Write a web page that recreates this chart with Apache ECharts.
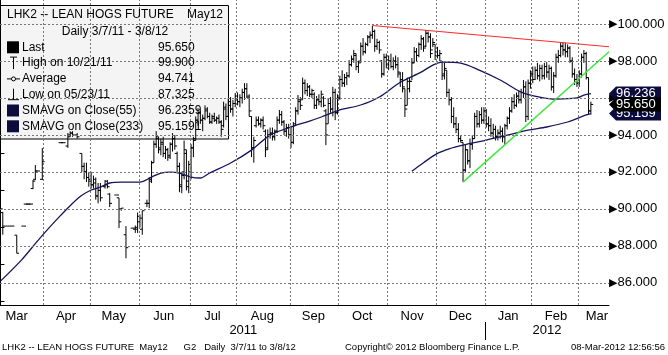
<!DOCTYPE html>
<html>
<head>
<meta charset="utf-8">
<script src="https://cdn.jsdelivr.net/npm/echarts@6/dist/echarts.min.js"></script>
<style>
  html, body { margin: 0; padding: 0; background: #fff; }
  #chart { width: 668px; height: 355px; }
</style>
</head>
<body>
<div id="chart"></div>
<script>
// daily bars: [trading day index, open, high, low, close]
const bars = [
  [0, 90.0, 90.1, 89.8, 90.0], [1, 89.8, 89.84, 88.6, 89.07], [3, 89.07, 89.07, 89.07, 89.07],
  [5, 89.07, 89.07, 89.07, 89.07], [7, 88.58, 88.58, 87.6, 87.6], [10, 89.07, 89.07, 89.07, 89.07],
  [11, 90.26, 90.26, 90.26, 90.26], [12, 90.26, 90.26, 90.26, 90.26], [13, 90.26, 90.26, 90.26, 90.26],
  [14, 91.1, 91.56, 91.07, 91.5], [15, 91.6, 92.37, 91.56, 92.05], [16, 92.05, 92.05, 92.05, 92.05],
  [18, 91.6, 93.29, 91.56, 92.55],
  [26, 93.58, 93.58, 93.58, 93.58], [27, 93.58, 93.58, 93.58, 93.58], [29, 93.4, 94.1, 93.3, 93.9],
  [30, 94.0, 94.2, 93.9, 94.1], [31, 94.1, 94.2, 93.9, 94.0], [33, 94.0, 94.1, 93.8, 93.9],
  [35, 93.0, 93.0, 92.0, 92.3], [36, 92.3, 92.5, 91.6, 92.0], [37, 92.0, 92.5, 91.45, 91.7],
  [38, 91.7, 92.0, 91.2, 91.5],
  [39, 91.6, 92.0, 91.1, 91.3], [40, 91.3, 91.8, 91.1, 91.6], [41, 91.4, 91.7, 90.5, 90.7],
  [42, 90.7, 91.4, 90.3, 91.0], [43, 91.0, 91.4, 90.4, 90.6], [45, 91.2, 91.56, 91.1, 91.5],
  [46, 91.3, 91.56, 91.1, 91.2], [47, 90.8, 90.85, 90.1, 90.3], [50, 90.75, 90.75, 90.75, 90.75],
  [51, 90.6, 90.6, 88.96, 89.3], [52, 90.0, 90.04, 89.9, 90.04], [54, 88.6, 89.07, 87.325, 87.9],
  [57, 88.96, 88.96, 88.96, 88.96], [58, 88.9, 89.1, 88.7, 89.0],
  [59, 88.9, 89.8, 88.7, 89.6], [60, 89.3, 89.7, 89.0, 89.5], [61, 88.9, 89.9, 88.6, 89.9],
  [63, 90.3, 90.5, 90.1, 90.3], [64, 90.3, 91.72, 90.04, 91.5], [65, 91.6, 92.6, 91.4, 92.5],
  [66, 92.5, 93.7, 92.5, 93.5], [67, 93.5, 94.2, 93.3, 93.9], [68, 93.8, 93.9, 93.0, 93.2],
  [69, 93.3, 93.8, 92.9, 93.6], [70, 93.5, 93.9, 92.8, 93.0], [71, 93.0, 93.4, 92.7, 93.2],
  [72, 93.2, 93.3, 92.6, 92.8], [73, 92.9, 93.6, 92.7, 93.5], [74, 93.5, 94.1, 93.1, 93.8],
  [75, 93.8, 94.0, 93.2, 93.4], [76, 93.0, 93.1, 92.0, 92.3], [77, 92.3, 92.5, 90.9, 91.2],
  [78, 91.3, 92.0, 90.85, 91.8], [79, 92.0, 93.7, 91.6, 93.2], [80, 93.0, 93.2, 91.0, 91.2],
  [81, 91.5, 92.6, 90.85, 92.4],
  [82, 92.0, 93.5, 91.6, 93.3], [83, 93.3, 93.9, 92.8, 93.7], [84, 93.8, 95.0, 93.7, 94.8],
  [85, 94.8, 95.45, 94.5, 95.2], [86, 95.2, 95.3, 94.6, 94.8], [87, 94.8, 95.1, 94.2, 94.9],
  [88, 94.9, 95.6, 94.8, 95.4], [89, 95.3, 95.5, 94.9, 95.0], [90, 95.0, 95.2, 94.6, 94.7],
  [91, 94.7, 95.1, 94.6, 95.0], [92, 94.9, 95.2, 94.7, 94.8], [93, 94.8, 95.0, 94.6, 94.9],
  [94, 94.9, 95.1, 94.6, 94.7], [95, 94.7, 94.8, 93.9, 94.3], [96, 94.5, 95.8, 94.4, 95.5],
  [97, 95.4, 95.7, 94.8, 95.0], [98, 95.0, 96.0, 94.97, 95.8], [99, 95.6, 96.05, 95.2, 95.4],
  [100, 95.4, 95.9, 95.0, 95.7], [101, 95.7, 96.27, 95.5, 96.1],
  [102, 96.1, 96.3, 95.6, 95.8], [103, 95.8, 96.2, 95.5, 96.0], [104, 96.0, 96.5, 95.7, 96.3],
  [105, 96.3, 96.8, 95.9, 96.5], [106, 96.5, 96.8, 96.0, 96.1], [107, 96.0, 96.2, 95.0, 95.3],
  [108, 95.0, 95.0, 92.8, 93.3], [109, 93.3, 93.9, 92.5, 93.7], [110, 94.5, 95.0, 94.4, 94.8],
  [111, 94.8, 95.0, 94.5, 94.6], [112, 94.6, 94.9, 94.4, 94.8], [113, 94.8, 95.0, 94.3, 94.5],
  [114, 94.2, 94.3, 92.8, 93.2], [115, 93.3, 94.3, 93.2, 94.0], [116, 94.0, 94.4, 93.8, 94.1],
  [117, 94.1, 94.4, 93.7, 93.9], [118, 93.9, 94.3, 93.7, 94.2], [119, 94.2, 95.0, 94.1, 94.8],
  [120, 94.8, 95.35, 94.6, 95.1], [121, 95.1, 95.3, 94.5, 94.7], [122, 94.7, 94.8, 94.0, 94.2],
  [123, 94.2, 94.6, 93.9, 94.4], [124, 94.4, 94.6, 93.8, 94.0],
  [125, 94.0, 94.5, 93.3, 93.6], [126, 93.6, 94.7, 93.5, 94.5], [127, 94.6, 95.5, 94.5, 95.3],
  [128, 95.3, 96.16, 95.1, 95.9], [129, 95.8, 96.05, 95.35, 95.6], [130, 95.9, 97.1, 95.9, 96.8],
  [131, 96.8, 97.0, 96.2, 96.4], [132, 96.4, 96.8, 96.1, 96.6], [133, 96.6, 96.7, 96.05, 96.2],
  [134, 96.2, 96.5, 96.0, 96.4], [135, 96.2, 96.3, 95.4, 95.6], [136, 95.6, 96.1, 95.4, 95.9],
  [137, 95.9, 96.2, 95.6, 95.8], [138, 95.8, 96.4, 95.5, 96.2], [139, 96.0, 96.1, 95.5, 95.6],
  [140, 95.3, 95.4, 93.45, 94.0], [141, 94.6, 96.0, 94.6, 95.7], [142, 95.7, 96.05, 95.2, 95.4],
  [143, 95.4, 96.6, 95.0, 96.3], [144, 96.3, 96.5, 94.8, 95.2], [145, 95.2, 96.2, 95.1, 96.0],
  [146, 96.0, 97.2, 95.9, 97.0], [147, 97.0, 97.5, 96.6, 96.8], [148, 96.8, 97.3, 96.6, 97.1],
  [149, 97.1, 97.4, 96.7, 97.2], [150, 97.2, 98.05, 97.1, 97.8], [151, 97.8, 98.3, 97.7, 98.1],
  [152, 98.1, 98.6, 97.9, 98.4], [153, 98.3, 98.4, 97.5, 97.7], [154, 97.7, 98.0, 97.35, 97.9],
  [155, 98.0, 99.0, 97.9, 98.8], [156, 98.8, 99.24, 98.3, 98.5], [157, 98.5, 99.0, 98.4, 98.9],
  [158, 98.9, 99.4, 98.8, 99.3], [159, 99.3, 99.6, 98.97, 99.4], [160, 99.4, 99.9, 99.2, 99.6],
  [161, 99.6, 99.7, 98.5, 98.8], [162, 98.8, 99.2, 98.6, 99.0], [163, 99.0, 99.1, 98.4, 98.6],
  [164, 98.0, 98.05, 97.1, 97.3], [165, 97.3, 98.4, 97.2, 98.2], [166, 98.2, 98.4, 97.6, 97.8],
  [167, 97.8, 98.3, 97.5, 98.0], [168, 98.0, 98.4, 97.6, 97.7], [169, 97.7, 98.2, 97.5, 98.0],
  [170, 98.0, 98.3, 97.6, 97.8], [171, 97.8, 98.2, 97.1, 97.4], [172, 97.3, 97.4, 96.6, 96.9],
  [173, 97.0, 97.4, 96.3, 96.6], [174, 96.5, 96.5, 94.97, 95.4], [175, 95.6, 97.1, 95.6, 96.9],
  [176, 96.5, 97.13, 96.3, 96.9], [177, 96.9, 98.16, 96.97, 97.9], [178, 97.9, 98.75, 97.9, 98.5],
  [179, 98.5, 98.7, 98.0, 98.3], [180, 98.3, 99.0, 98.2, 98.9], [181, 98.9, 99.4, 98.6, 99.2],
  [182, 99.2, 99.3, 98.5, 98.7], [183, 98.8, 99.68, 98.75, 99.5], [184, 99.5, 99.6, 99.0, 99.3],
  [185, 99.3, 99.5, 98.16, 98.4], [186, 98.6, 99.24, 98.75, 99.0], [187, 98.9, 98.9, 98.05, 98.3],
  [188, 98.5, 98.77, 98.14, 98.3], [189, 98.3, 98.6, 98.0, 98.4], [190, 98.0, 98.0, 96.97, 97.2],
  [191, 97.3, 97.9, 97.0, 97.6], [192, 97.5, 97.5, 96.05, 96.3], [193, 96.3, 96.5, 95.6, 95.9],
  [194, 95.9, 96.05, 94.64, 95.0], [195, 95.0, 95.5, 94.37, 94.6], [196, 94.6, 94.97, 94.1, 94.3],
  [197, 94.3, 94.64, 93.6, 93.8], [198, 93.8, 94.0, 93.6, 93.7], [199, 93.6, 93.6, 91.45, 92.1],
  [200, 92.1, 93.5, 92.0, 93.2], [201, 93.2, 93.2, 92.4, 92.6], [202, 92.6, 93.8, 92.2, 93.5],
  [203, 93.5, 94.0, 93.2, 93.8], [204, 93.8, 95.2, 93.8, 95.0], [205, 95.0, 95.35, 94.4, 94.6],
  [206, 94.6, 95.3, 94.4, 95.1], [207, 95.1, 95.5, 94.6, 94.8], [208, 94.8, 95.5, 94.6, 95.3],
  [209, 95.3, 95.4, 94.4, 94.6], [210, 94.6, 95.0, 94.2, 94.5], [211, 94.5, 94.9, 93.9, 94.1],
  [212, 94.1, 94.6, 93.8, 94.3], [213, 94.3, 94.5, 93.7, 93.9], [214, 93.9, 94.3, 93.7, 94.1],
  [215, 94.1, 94.5, 93.8, 94.2], [216, 94.2, 94.4, 93.6, 93.9], [217, 93.9, 94.6, 93.45, 94.5],
  [218, 94.5, 95.0, 94.3, 94.9], [219, 94.9, 95.5, 94.6, 95.3], [220, 95.3, 96.05, 95.2, 95.8],
  [221, 95.8, 96.2, 95.4, 95.6], [222, 95.6, 96.3, 95.5, 96.1], [223, 96.1, 96.4, 95.7, 95.9],
  [224, 95.9, 96.5, 95.7, 96.3], [225, 96.3, 96.97, 96.0, 96.6], [226, 96.6, 96.9, 94.7, 95.0],
  [227, 95.0, 97.0, 94.8, 96.8], [228, 96.8, 97.5, 96.5, 97.3],
  [229, 97.3, 97.7, 96.8, 97.0], [230, 97.0, 97.7, 96.97, 97.5], [231, 97.5, 97.9, 97.0, 97.2],
  [232, 97.2, 97.8, 96.9, 97.6], [233, 97.6, 97.8, 97.0, 97.2], [234, 97.2, 97.9, 97.0, 97.7],
  [235, 97.7, 97.94, 97.1, 97.4], [236, 97.4, 97.8, 96.97, 97.6], [237, 97.6, 97.7, 96.4, 96.6],
  [238, 96.6, 97.4, 96.27, 97.2], [239, 97.2, 98.4, 97.1, 98.2], [240, 98.2, 98.6, 97.9, 98.3],
  [241, 98.3, 99.0, 98.2, 98.8], [242, 98.8, 99.0, 98.3, 98.6], [243, 98.6, 98.97, 98.2, 98.5],
  [244, 98.5, 98.9, 98.2, 98.7], [245, 98.7, 98.8, 97.9, 98.0], [246, 98.0, 98.2, 97.1, 97.3],
  [247, 97.3, 97.6, 96.7, 97.0], [248, 97.0, 97.3, 96.6, 96.8],
  [249, 96.8, 97.5, 96.6, 97.3], [250, 97.3, 98.4, 97.1, 98.2], [251, 98.2, 98.6, 97.9, 98.4],
  [252, 98.4, 98.5, 97.0, 97.1], [253, 97.1, 97.1, 95.1, 95.3], [254, 95.3, 95.8, 95.1, 95.65]
];

// moving averages: [day index, value]
const sma55 = [
  [0, 86.09], [9, 87.23], [17, 88.42], [26, 89.66], [34, 90.64], [39, 91.02], [43, 91.18],
  [47, 91.4], [52, 91.45], [60, 91.45], [65, 91.72], [69, 91.94], [73, 91.99], [77, 91.94],
  [82, 91.72], [86, 91.67], [90, 91.94], [99, 92.48], [108, 93.18], [116, 93.99], [125, 94.43],
  [133, 94.75], [138, 94.97], [146, 95.35], [155, 95.62], [163, 96.05], [172, 96.85], [181, 97.4],
  [186, 97.78], [190, 97.94], [198, 97.89], [206, 97.51], [215, 96.97], [224, 96.32], [232, 96.05],
  [239, 95.94], [248, 96.0], [251, 96.16], [254, 96.236]
];
const sma233 = [
  [177, 92.04], [182, 92.5], [188, 93.0], [193, 93.25], [199, 93.45], [209, 93.72], [218, 93.99],
  [227, 94.26], [235, 94.43], [244, 94.7], [252, 95.08], [254, 95.159]
];

// hand drawn trend lines
const resistLine = [[160, 99.92], [261.8, 98.77]];
const supportLine = [[199, 91.45], [261.8, 98.5]];

// axis layout (trading day index)
const monthBreaks = [18.5, 38.5, 59.5, 81.5, 101.5, 124.5, 145.5, 166.5, 187.5, 208.5, 228.5, 248.5];
const monthLabels = ['Mar', 'Apr', 'May', 'Jun', 'Jul', 'Aug', 'Sep', 'Oct', 'Nov', 'Dec', 'Jan', 'Feb', 'Mar'];
const monthLabelPos = [7, 28.2, 48.7, 70.2, 91.2, 112.7, 134.6, 155.6, 177.1, 197.8, 218.4, 239, 256.6];
const yearLabels = ['2011', '2012'];
const yearLabelPos = [104.5, 235.1];
const yearBreaks = [208.5];
const priceTicks = [86, 88, 90, 92, 94, 96, 98, 100];
const minorTicks = [85, 87, 89, 91, 93, 95, 97, 99, 101];

// right side value tags
const tagValues = [96.236, 95.159, 95.65];
const tagColors = ['#0b0b3d', '#0b0b3d', '#000000'];

// legend block
const legendTitle = 'LHK2 -- LEAN HOGS FUTURE';
const legendContract = 'May12';
const legendRange = 'Daily 3/7/11 - 3/8/12';
const legendNames = ['Last', 'High on 10/21/11', 'Average', 'Low on 05/23/11', 'SMAVG on Close(55)', 'SMAVG on Close(233)'];
const legendValues = ['95.650', '99.900', '94.741', '87.325', '96.2359', '95.1591'];

const FONT = "'Liberation Sans', Arial, sans-serif";
const X_MIN = -0.2, X_MAX = 261.8;

function nearestLabel (v, pos, names) {
  let k = 0;
  pos.forEach((p, i) => { if (Math.abs(p - v) < Math.abs(pos[k] - v)) k = i; });
  return names[k];
}

function renderBar (params, api) {
  const i = api.value(0);
  const o = api.coord([i, api.value(1)]);
  const h = api.coord([i, api.value(2)]);
  const l = api.coord([i, api.value(3)]);
  const c = api.coord([i, api.value(4)]);
  const w = 2.3;
  const style = { stroke: '#000', lineWidth: 1 };
  return {
    type: 'group',
    children: [
      { type: 'line', shape: { x1: h[0], y1: h[1], x2: l[0], y2: l[1] }, style: style },
      { type: 'line', shape: { x1: o[0] - w, y1: o[1], x2: o[0], y2: o[1] }, style: style },
      { type: 'line', shape: { x1: c[0], y1: c[1], x2: c[0] + w, y2: c[1] }, style: style }
    ]
  };
}

function renderTag (params, api) {
  const v = api.value(0);
  const y = api.coord([0, v])[1];
  const x = params.coordSys.x + params.coordSys.width;
  return {
    type: 'group',
    children: [
      {
        type: 'polygon',
        shape: { points: [[x, y], [x + 7, y - 7], [x + 52, y - 7], [x + 52, y + 7], [x + 7, y + 7]] },
        style: { fill: tagColors[params.dataIndex] }
      },
      {
        type: 'text',
        x: x + 7, y: y,
        style: { text: v.toFixed(3), fill: '#fff', font: '13px ' + FONT, verticalAlign: 'middle' }
      }
    ]
  };
}

// legend box graphics
const legendGraphics = [
  { type: 'rect', z: 1.5, shape: { x: 0.5, y: 5.5, width: 228, height: 133.5 }, style: { fill: '#f4f4f4', stroke: '#000', lineWidth: 1 } },
  { type: 'text', z: 100, x: 7, y: 15, style: { text: legendTitle, font: '12px ' + FONT, fill: '#000', verticalAlign: 'middle' } },
  { type: 'text', z: 100, x: 187, y: 15, style: { text: legendContract, font: '12px ' + FONT, fill: '#000', verticalAlign: 'middle' } },
  { type: 'text', z: 100, x: 115, y: 31.5, style: { text: legendRange, font: '12px ' + FONT, fill: '#000', align: 'center', verticalAlign: 'middle' } }
];
legendNames.forEach((name, k) => {
  const y = 47.3 + 15.8 * k;
  legendGraphics.push({ type: 'text', z: 100, x: 22, y: y, style: { text: name, font: '12px ' + FONT, fill: '#000', verticalAlign: 'middle' } });
  legendGraphics.push({ type: 'text', z: 100, x: 158, y: y, style: { text: legendValues[k], font: '12px ' + FONT, fill: '#000', verticalAlign: 'middle' } });
});
const iconY = k => 47.3 + 15.8 * k;
legendGraphics.push(
  { type: 'rect', z: 100, shape: { x: 7, y: iconY(0) - 6, width: 12, height: 12 }, style: { fill: '#000' } },
  { type: 'polyline', z: 100, shape: { points: [[10, iconY(1) - 6], [17, iconY(1) - 6]] }, style: { stroke: '#000', lineWidth: 1 } },
  { type: 'polyline', z: 100, shape: { points: [[13.5, iconY(1) - 6], [13.5, iconY(1) + 6]] }, style: { stroke: '#000', lineWidth: 1 } },
  { type: 'polyline', z: 100, shape: { points: [[7, iconY(2)], [20, iconY(2)]] }, style: { stroke: '#000', lineWidth: 1 } },
  { type: 'circle', z: 100, shape: { cx: 13.5, cy: iconY(2), r: 2 }, style: { fill: '#fff', stroke: '#000', lineWidth: 1 } },
  { type: 'polyline', z: 100, shape: { points: [[13.5, iconY(3) - 6], [13.5, iconY(3) + 5]] }, style: { stroke: '#000', lineWidth: 1 } },
  { type: 'polyline', z: 100, shape: { points: [[8, iconY(3) + 5], [19, iconY(3) + 5]] }, style: { stroke: '#000', lineWidth: 1 } },
  { type: 'rect', z: 100, shape: { x: 7, y: iconY(4) - 6, width: 12, height: 12 }, style: { fill: '#0b0b3d' } },
  { type: 'rect', z: 100, shape: { x: 7, y: iconY(5) - 6, width: 12, height: 12 }, style: { fill: '#0b0b3d' } }
);
// footer
legendGraphics.push(
  { type: 'text', x: 2, y: 347, style: { text: 'LHK2 -- LEAN HOGS FUTURE  May12      G2   Daily  3/7/11 to 3/8/12', font: '9.5px ' + FONT, fill: '#000', verticalAlign: 'middle' } },
  { type: 'text', x: 345, y: 347, style: { text: 'Copyright\u00a9 2012 Bloomberg Finance L.P.', font: '9.5px ' + FONT, fill: '#000', verticalAlign: 'middle' } },
  { type: 'text', x: 665, y: 347, style: { text: '08-Mar-2012 12:56:56', font: '9.5px ' + FONT, fill: '#000', align: 'right', verticalAlign: 'middle' } }
);

const chart = echarts.init(document.getElementById('chart'), null, { renderer: 'canvas' });
const option = {
  animation: false,
  backgroundColor: '#fff',
  grid: { left: 0, right: 59, top: 0, bottom: 50, containLabel: false },
  xAxis: [
    {
      type: 'value', min: X_MIN, max: X_MAX,
      axisLine: { show: true, onZero: false, lineStyle: { color: '#000', width: 1 } },
      axisTick: { show: false },
      splitLine: { show: false },
      axisLabel: {
        customValues: monthLabelPos, margin: 5, color: '#000', fontSize: 13, fontFamily: FONT,
        formatter: v => nearestLabel(v, monthLabelPos, monthLabels)
      }
    },
    {
      type: 'value', min: X_MIN, max: X_MAX, position: 'bottom', offset: 17,
      axisLine: { show: false, onZero: false },
      axisTick: { show: true, customValues: yearBreaks, length: 18, lineStyle: { color: '#000' } },
      splitLine: { show: false },
      axisLabel: {
        customValues: yearLabelPos, margin: 2, color: '#000', fontSize: 13, fontFamily: FONT,
        formatter: v => nearestLabel(v, yearLabelPos, yearLabels)
      }
    }
  ],
  yAxis: {
    type: 'value', position: 'right', min: 84.8, max: 101.3,
    axisLine: { show: true, lineStyle: { color: '#000', width: 1 } },
    axisTick: { show: true, customValues: minorTicks, length: 4, lineStyle: { color: '#000' } },
    splitLine: { show: false },
    axisLabel: {
      customValues: priceTicks, margin: 0,
      formatter: v => '{a|\u25B6}{b|' + v.toFixed(3) + '}',
      rich: {
        a: { fontSize: 11, color: '#000', fontFamily: 'DejaVu Sans' },
        b: { fontSize: 13, color: '#000', fontFamily: FONT }
      }
    }
  },
  graphic: { elements: legendGraphics },
  series: [
    {
      name: 'grid', type: 'line', data: [], z: 1, silent: true,
      markLine: {
        silent: true, symbol: 'none', animation: false,
        label: { show: false },
        lineStyle: { color: '#777', type: [2, 2], width: 1 },
        data: priceTicks.map(v => ({ yAxis: v })).concat(monthBreaks.map(v => ({ xAxis: v })))
      }
    },
    {
      name: 'bars', type: 'custom', data: bars, z: 2, clip: true,
      encode: { x: 0, y: [1, 2, 3, 4] },
      renderItem: renderBar
    },
    {
      name: 'SMA55', type: 'line', data: sma55, z: 3, smooth: 0.3, showSymbol: false,
      lineStyle: { color: '#14145a', width: 1.3 }
    },
    {
      name: 'SMA233', type: 'line', data: sma233, z: 3, smooth: 0.3, showSymbol: false,
      lineStyle: { color: '#14145a', width: 1.3 }
    },
    {
      name: 'resist', type: 'line', data: resistLine, z: 4, showSymbol: false,
      lineStyle: { color: '#ff2a2a', width: 1.2 }
    },
    {
      name: 'support', type: 'line', data: supportLine, z: 4, showSymbol: false,
      lineStyle: { color: '#3ee83e', width: 1.5 }
    },
    {
      name: 'tags', type: 'custom', data: tagValues.map(v => [v]), z: 6, clip: false,
      encode: { y: 0 },
      renderItem: renderTag
    }
  ]
};
chart.setOption(option);
</script>
</body>
</html>
